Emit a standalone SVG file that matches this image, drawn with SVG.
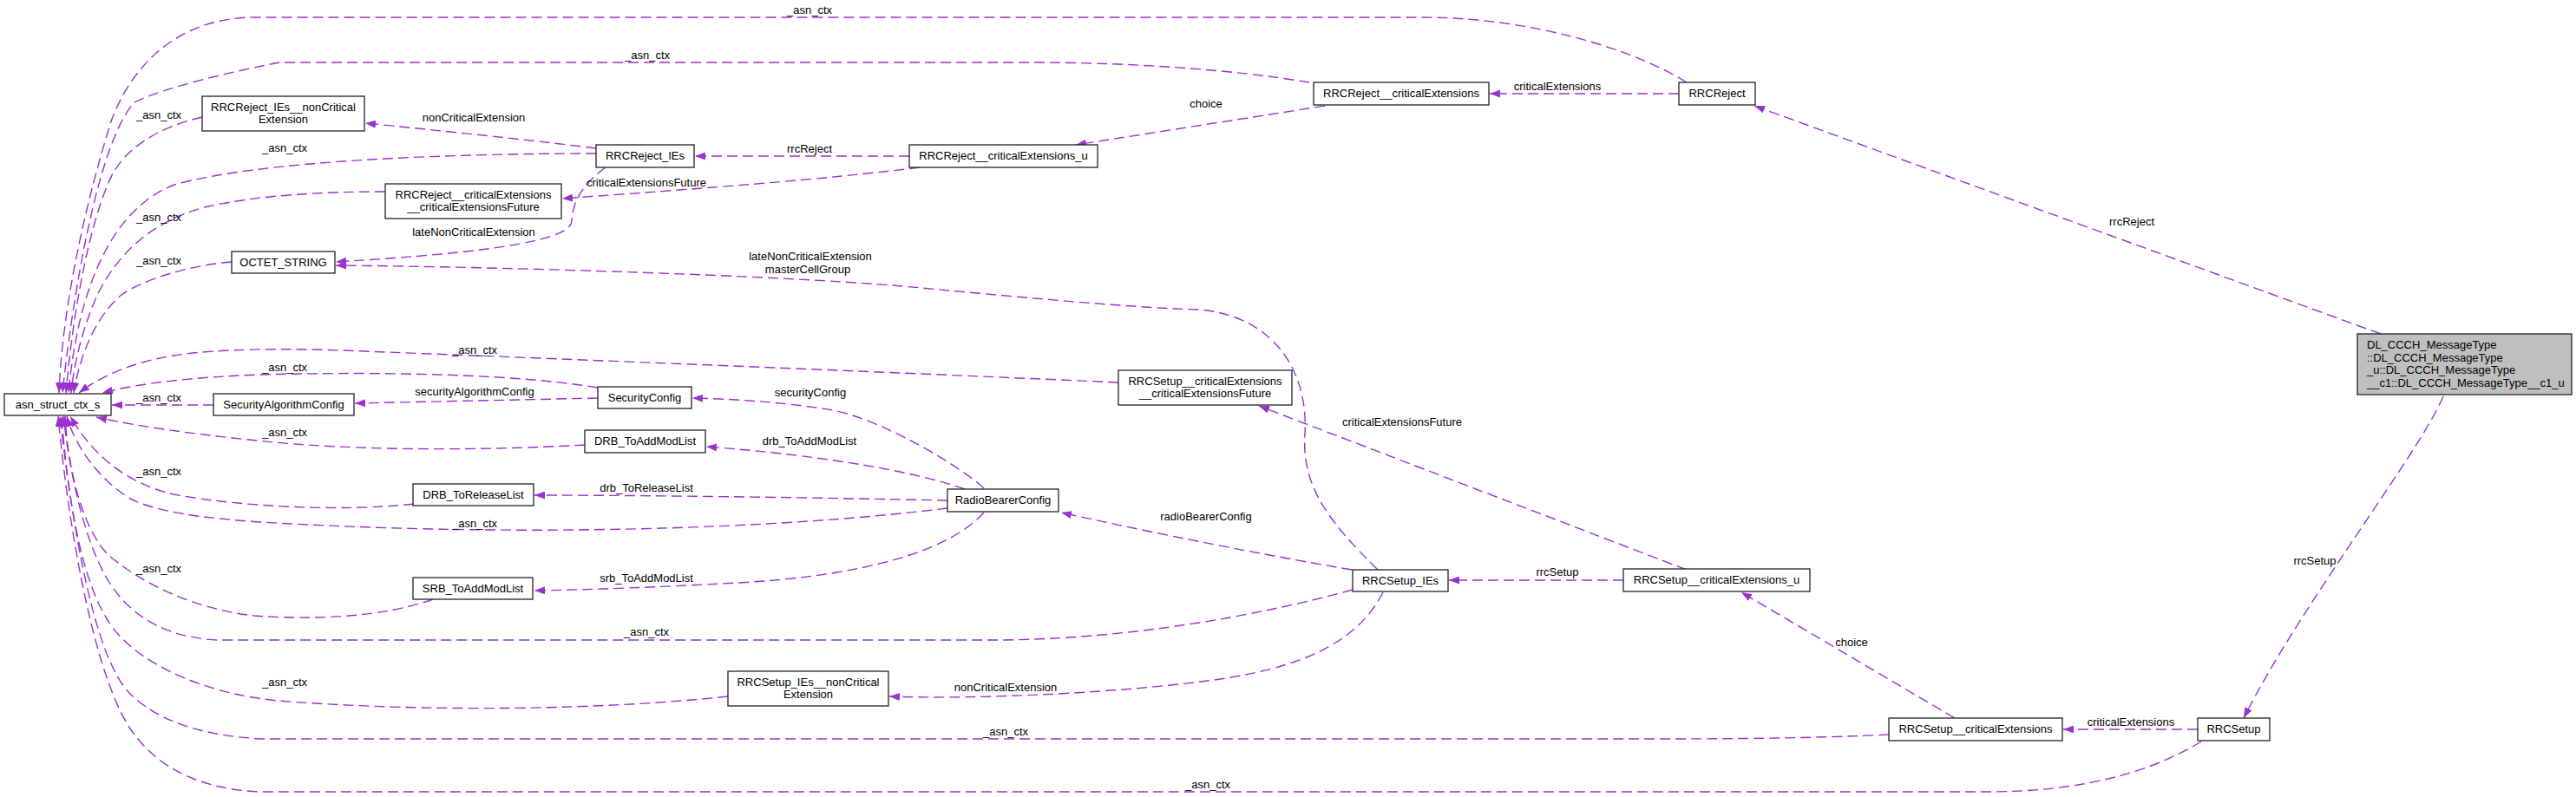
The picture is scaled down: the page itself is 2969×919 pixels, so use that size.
<svg xmlns="http://www.w3.org/2000/svg" width="2969" height="919" viewBox="0 0 2969 919">
<style>
.node rect{fill:#fff;stroke:#222;stroke-width:1.3}
.node.hl rect{fill:#bfbfbf}
.node text,.lbl{font-family:"Liberation Sans",Arial,Helvetica,sans-serif;font-size:13px;fill:#000}
.node text{text-anchor:middle}
.node.hl text{text-anchor:start}
.lbl{text-anchor:middle}
.edges path{fill:none;stroke:#9a32cd;stroke-width:1.4;stroke-dasharray:12,6;marker-end:url(#ah)}
</style>
<defs>
<marker id="ah" markerUnits="userSpaceOnUse" markerWidth="12" markerHeight="9" viewBox="0 0 12 9" refX="12" refY="4.5" orient="auto">
<path d="M0,0L12,4.5L0,9z" fill="#9a32cd" stroke="none"/>
</marker>
</defs>
<rect width="2969" height="919" fill="#fff"/>
<g class="edges" id="edges">
<path d="M1944,95 C1880,55 1760,20 1640,20 L290,20 C200,22 150,80 128,140 C100,230 72,350 68,453"/>
<path d="M1509,95 C1420,80 1300,72 1190,72 L322,72 C280,80 190,100 155,118 C115,160 85,330 72,453"/>
<path d="M233,135 C190,145 150,165 130,200 C105,250 85,350 76,453"/>
<path d="M687,177 C520,177 300,185 201,213 C130,240 90,330 79,453"/>
<path d="M444,221 C370,221 300,225 240,238 C170,255 130,300 110,345 C95,380 85,420 82,453"/>
<path d="M267,302 C220,306 170,320 140,340 C110,365 92,410 85,453"/>
<path d="M1289,441 C1000,428 700,416 420,405 C330,401 250,402 200,410 C150,418 115,435 91,453"/>
<path d="M689,447 C600,432 450,428 300,432 C220,435 160,442 118,453"/>
<path d="M246,467 L129,467"/>
<path d="M674,513 C550,520 400,520 287,507 C220,500 160,492 111,481"/>
<path d="M477,581 C400,590 280,585 200,570 C150,558 110,530 81,480"/>
<path d="M1092,586 C900,610 600,620 300,602 C230,597 180,590 150,575 C110,550 85,510 77,480"/>
<path d="M499,691 C440,712 360,715 293,710 C220,702 160,670 125,640 C95,610 78,540 75,480"/>
<path d="M1559,680 C1450,710 1300,737 1150,738 L250,738 C190,735 150,710 125,670 C95,620 80,540 73,480"/>
<path d="M839,803 C700,818 500,822 320,808 C240,800 170,770 135,730 C100,690 80,600 71,480"/>
<path d="M2177,847 C2100,851 2000,852 1900,852 L300,852 C230,848 180,830 150,800 C110,760 85,620 69,480"/>
<path d="M2537,855 C2480,890 2400,913 2290,913 L300,913 C230,910 180,885 150,840 C110,780 80,620 67,480"/>
<path d="M687,171 C600,160 500,150 421,142"/>
<path d="M1048,180 L801,180"/>
<path d="M1060,193 C950,207 800,218 648,229"/>
<path d="M698,193 C668,215 660,235 659,255 C658,285 480,296 387,302"/>
<path d="M1588,657 C1530,600 1500,560 1504,500 C1508,430 1470,365 1383,357 C1300,355 1150,340 1040,330 C900,318 600,308 387,306"/>
<path d="M1527,122 L1240,167"/>
<path d="M1935,108 L1717,108"/>
<path d="M2744,385 L2022,122"/>
<path d="M2816,457 C2790,520 2650,700 2586,828"/>
<path d="M2533,841 L2378,841"/>
<path d="M2253,828 L2007,683"/>
<path d="M1871,669 L1670,669"/>
<path d="M1944,657 L1451,468"/>
<path d="M1558,657 Q1400,630 1223,591"/>
<path d="M1594,683 C1560,750 1480,775 1376,787 C1250,802 1100,806 1025,803"/>
<path d="M1134,563 C1110,540 1020,485 960,473 C900,463 840,460 798,459"/>
<path d="M1112,564 C1060,545 950,525 814,515"/>
<path d="M1092,577 C950,574 750,571 616,571"/>
<path d="M1134,591 C1090,640 980,665 850,672 C760,677 680,680 616,681"/>
<path d="M689,459 C600,461 500,463 409,465"/>
</g>
<g id="labels">
<text class="lbl" x="933" y="16">_asn_ctx</text>
<text class="lbl" x="746" y="68">_asn_ctx</text>
<text class="lbl" x="183" y="137">_asn_ctx</text>
<text class="lbl" x="546" y="140">nonCriticalExtension</text>
<text class="lbl" x="328" y="175">_asn_ctx</text>
<text class="lbl" x="745" y="215">criticalExtensionsFuture</text>
<text class="lbl" x="183" y="255">_asn_ctx</text>
<text class="lbl" x="546" y="272">lateNonCriticalExtension</text>
<text class="lbl" x="183" y="305">_asn_ctx</text>
<text class="lbl" x="934" y="300">lateNonCriticalExtension</text>
<text class="lbl" x="931" y="315">masterCellGroup</text>
<text class="lbl" x="933" y="176">rrcReject</text>
<text class="lbl" x="1390" y="124">choice</text>
<text class="lbl" x="1795" y="104">criticalExtensions</text>
<text class="lbl" x="2457" y="260">rrcReject</text>
<text class="lbl" x="547" y="408">_asn_ctx</text>
<text class="lbl" x="328" y="428">_asn_ctx</text>
<text class="lbl" x="183" y="463">_asn_ctx</text>
<text class="lbl" x="547" y="456">securityAlgorithmConfig</text>
<text class="lbl" x="934" y="457">securityConfig</text>
<text class="lbl" x="328" y="503">_asn_ctx</text>
<text class="lbl" x="933" y="513">drb_ToAddModList</text>
<text class="lbl" x="183" y="548">_asn_ctx</text>
<text class="lbl" x="745" y="567">drb_ToReleaseList</text>
<text class="lbl" x="547" y="608">_asn_ctx</text>
<text class="lbl" x="1616" y="491">criticalExtensionsFuture</text>
<text class="lbl" x="1390" y="600">radioBearerConfig</text>
<text class="lbl" x="183" y="660">_asn_ctx</text>
<text class="lbl" x="745" y="671">srb_ToAddModList</text>
<text class="lbl" x="1795" y="664">rrcSetup</text>
<text class="lbl" x="745" y="733">_asn_ctx</text>
<text class="lbl" x="328" y="791">_asn_ctx</text>
<text class="lbl" x="1159" y="797">nonCriticalExtension</text>
<text class="lbl" x="1159" y="848">_asn_ctx</text>
<text class="lbl" x="2134" y="745">choice</text>
<text class="lbl" x="2456" y="837">criticalExtensions</text>
<text class="lbl" x="2668" y="651">rrcSetup</text>
<text class="lbl" x="1392" y="909">_asn_ctx</text>
</g>
<g class="node" id="asn_struct_ctx_s"><rect x="5" y="454" width="123" height="25"/><text x="66.5" y="471">asn_struct_ctx_s</text></g>
<g class="node" id="RRCReject_IEs__nonCriticalExtension"><rect x="233" y="111" width="187" height="40"/><text x="326.5" y="128">RRCReject_IEs__nonCritical</text><text x="326.5" y="142">Extension</text></g>
<g class="node" id="RRCReject_IEs"><rect x="687" y="167" width="113" height="26"/><text x="743.5" y="184">RRCReject_IEs</text></g>
<g class="node" id="RRCReject__criticalExtensions__criticalExtensionsFuture"><rect x="444" y="212" width="203" height="40"/><text x="545.5" y="229">RRCReject__criticalExtensions</text><text x="545.5" y="243">__criticalExtensionsFuture</text></g>
<g class="node" id="OCTET_STRING"><rect x="267" y="290" width="119" height="25"/><text x="326.5" y="307">OCTET_STRING</text></g>
<g class="node" id="SecurityAlgorithmConfig"><rect x="246" y="454" width="162" height="25"/><text x="327" y="471">SecurityAlgorithmConfig</text></g>
<g class="node" id="SecurityConfig"><rect x="689" y="446" width="108" height="25"/><text x="743" y="463">SecurityConfig</text></g>
<g class="node" id="DRB_ToAddModList"><rect x="674" y="496" width="139" height="26"/><text x="743.5" y="513">DRB_ToAddModList</text></g>
<g class="node" id="DRB_ToReleaseList"><rect x="476" y="558" width="139" height="25"/><text x="545.5" y="575">DRB_ToReleaseList</text></g>
<g class="node" id="SRB_ToAddModList"><rect x="476" y="666" width="138" height="25"/><text x="545" y="683">SRB_ToAddModList</text></g>
<g class="node" id="RRCSetup_IEs__nonCriticalExtension"><rect x="839" y="774" width="185" height="40"/><text x="931.5" y="791">RRCSetup_IEs__nonCritical</text><text x="931.5" y="805">Extension</text></g>
<g class="node" id="RadioBearerConfig"><rect x="1092" y="564" width="128" height="26"/><text x="1156" y="581">RadioBearerConfig</text></g>
<g class="node" id="RRCSetup__criticalExtensions__criticalExtensionsFuture"><rect x="1289" y="427" width="200" height="40"/><text x="1389" y="444">RRCSetup__criticalExtensions</text><text x="1389" y="458">__criticalExtensionsFuture</text></g>
<g class="node" id="RRCSetup_IEs"><rect x="1559" y="657" width="110" height="25"/><text x="1614" y="674">RRCSetup_IEs</text></g>
<g class="node" id="RRCSetup__criticalExtensions_u"><rect x="1871" y="656" width="215" height="26"/><text x="1978.5" y="673">RRCSetup__criticalExtensions_u</text></g>
<g class="node" id="RRCSetup__criticalExtensions"><rect x="2177" y="828" width="200" height="26"/><text x="2277" y="845">RRCSetup__criticalExtensions</text></g>
<g class="node" id="RRCSetup"><rect x="2533" y="828" width="83" height="26"/><text x="2574.5" y="845">RRCSetup</text></g>
<g class="node hl" id="DL_CCCH_MessageType__c1_u"><rect x="2717" y="385" width="247" height="70"/><text x="2728" y="402">DL_CCCH_MessageType</text><text x="2728" y="417">::DL_CCCH_MessageType</text><text x="2728" y="431">_u::DL_CCCH_MessageType</text><text x="2728" y="446">__c1::DL_CCCH_MessageType__c1_u</text></g>
<g class="node" id="RRCReject"><rect x="1935" y="95" width="88" height="26"/><text x="1979" y="112">RRCReject</text></g>
<g class="node" id="RRCReject__criticalExtensions"><rect x="1514" y="95" width="202" height="26"/><text x="1615" y="112">RRCReject__criticalExtensions</text></g>
<g class="node" id="RRCReject__criticalExtensions_u"><rect x="1048" y="167" width="217" height="26"/><text x="1156.5" y="184">RRCReject__criticalExtensions_u</text></g>
</svg>
